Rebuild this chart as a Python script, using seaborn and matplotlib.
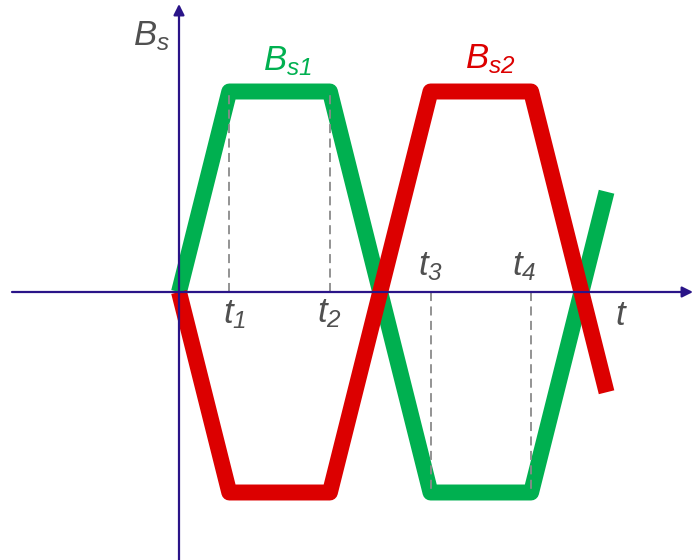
import matplotlib
matplotlib.use("Agg")
import matplotlib.pyplot as plt
import seaborn as sns
import pandas as pd

sns.set_theme(style="white")
plt.rcParams['font.family'] = ['Liberation Sans', 'DejaVu Sans']
plt.rcParams['mathtext.fontset'] = 'custom'
plt.rcParams['mathtext.it'] = 'Liberation Sans:italic'
plt.rcParams['mathtext.rm'] = 'Liberation Sans:italic'
plt.rcParams['mathtext.default'] = 'it'

# data (time in units where t1 = 1, amplitude normalised to 1)
t_pts = [0, 1, 3, 5, 7, 8.5]
bs1 = [0, 1, 1, -1, -1, 0.5]
bs2 = [0, -1, -1, 1, 1, -0.5]
t_marks = [1, 3, 5, 7]
t_mark_levels = [1, 1, -1, -1]
t_labels = [r'$t_1$', r'$t_2$', r'$t_3$', r'$t_4$']

GREEN = '#00b050'
RED = '#dc0000'
AXC = '#2a1488'
TXT = '#505050'

W, H = 696, 560
fig = plt.figure(figsize=(W / 100, H / 100), dpi=100)
ax = fig.add_axes([0, 0, 1, 1])

ox, oy, sx, sy = 179, 292, 50.3, 200.5
def px(x, y):
    return ((x - ox) / sx, (oy - y) / sy)

x0, y0 = px(0, H)
x1, y1 = px(W, 0)
ax.set_xlim(x0, x1)
ax.set_ylim(y0, y1)
ax.axis('off')

df = pd.DataFrame({'t': t_pts * 2, 'B': bs1 + bs2,
                   'series': ['Bs1'] * len(t_pts) + ['Bs2'] * len(t_pts)})
sns.lineplot(data=df, x='t', y='B', hue='series', palette={'Bs1': GREEN, 'Bs2': RED},
             sort=False, estimator=None, lw=11.5, legend=False, ax=ax,
             solid_joinstyle='round', solid_capstyle='butt', zorder=3)

for tm, lv in zip(t_marks, t_mark_levels):
    ax.plot([tm, tm], [0, lv], color='#8a8a8a', lw=1.3, ls=(0, (5, 3)), zorder=4)

# axes with arrows (drawn over the curves)
ax.annotate('', xy=px(693, 292), xytext=px(12, 292),
            arrowprops=dict(arrowstyle='-|>', color=AXC, lw=1.6, mutation_scale=16,
                            shrinkA=0, shrinkB=0), zorder=5)
ax.annotate('', xy=px(179, 4), xytext=px(179, H + 2),
            arrowprops=dict(arrowstyle='-|>', color=AXC, lw=1.6, mutation_scale=16,
                            shrinkA=0, shrinkB=0), zorder=5)

fs = 25
ax.text(*px(133, 45), r'$B_s$', color=TXT, fontsize=fs, ha='left', va='baseline')
ax.text(*px(263, 70), r'$B_{s1}$', color=GREEN, fontsize=fs, ha='left', va='baseline')
ax.text(*px(465, 68), r'$B_{s2}$', color=RED, fontsize=fs, ha='left', va='baseline')
lab_pos = [(223, 323), (317, 322), (418, 275), (512, 275)]
for lab, (lx, ly) in zip(t_labels, lab_pos):
    ax.text(*px(lx, ly), lab, color=TXT, fontsize=fs, ha='left', va='baseline')
ax.text(*px(615, 325), r'$t$', color=TXT, fontsize=fs, ha='left', va='baseline')

fig.savefig('out.png', dpi=100)
